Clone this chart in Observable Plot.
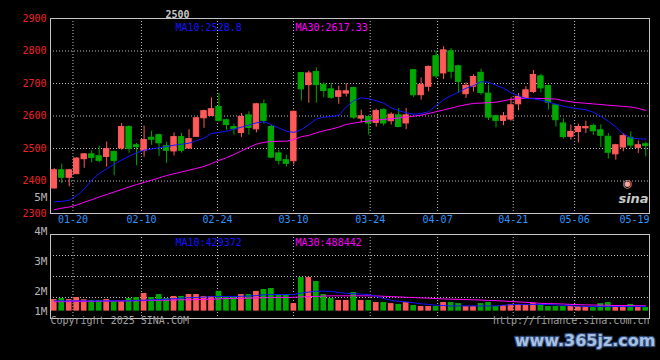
<!DOCTYPE html>
<html><head><meta charset="utf-8">
<script src="https://cdn.jsdelivr.net/npm/d3@7"></script>
<script src="https://cdn.jsdelivr.net/npm/@observablehq/plot@0.6"></script>
<style>
html,body{margin:0;padding:0;background:#000;}
#chart{position:relative;width:660px;height:360px;background:#000;overflow:hidden;}
#chart svg{position:absolute;left:0;top:0;}
</style></head><body><div id="chart"></div>
<script>
// ---- data ----
const opens=[2377,2433,2410,2421,2467,2482,2476,2474,2489,2500,
2566,2510,2492,2533,2541,2507,2491,2535,2500,2536,
2593,2600,2628,2587,2566,2548,2602,2559,2636,2566,
2485,2464,2461,2732,2695,2735,2696,2682,2659,2669,
2686,2592,2597,2579,2618,2584,2602,2577,2741,2664,
2690,2784,2731,2799,2753,2667,2690,2733,2669,2599,
2585,2589,2636,2654,2674,2722,2692,2633,2577,2536,
2551,2562,2569,2556,2536,2482,2503,2533,2502,2513];
const closes=[2433,2410,2433,2469,2482,2471,2462,2498,2462,2566,
2499,2504,2526,2527,2516,2493,2535,2493,2529,2593,
2615,2621,2585,2572,2559,2597,2563,2636,2585,2472,
2462,2453,2613,2682,2731,2695,2677,2656,2676,2676,
2595,2599,2577,2615,2577,2604,2566,2602,2664,2695,
2751,2722,2802,2736,2705,2693,2720,2671,2595,2585,
2599,2633,2659,2679,2726,2685,2641,2587,2535,2551,
2566,2566,2553,2539,2487,2510,2538,2509,2510,2508];
const highs=[2438,2452,2436,2472,2484,2493,2507,2520,2493,2577,
2570,2516,2569,2553,2544,2519,2548,2547,2558,2596,
2618,2656,2669,2590,2575,2608,2613,2639,2649,2572,
2495,2479,2615,2733,2738,2748,2702,2700,2692,2699,
2689,2618,2601,2621,2622,2610,2623,2623,2742,2717,
2754,2800,2813,2808,2756,2702,2727,2744,2695,2603,
2611,2656,2669,2690,2740,2728,2695,2636,2592,2572,
2575,2584,2575,2573,2546,2513,2546,2551,2523,2519];
const lows=[2375,2392,2382,2420,2439,2456,2456,2443,2416,2495,
2485,2447,2473,2510,2476,2454,2477,2486,2498,2535,
2562,2599,2582,2556,2541,2534,2541,2548,2575,2469,
2449,2443,2449,2646,2639,2640,2656,2652,2636,2659,
2589,2579,2541,2566,2569,2572,2564,2558,2657,2649,
2674,2715,2712,2714,2670,2654,2674,2664,2586,2563,
2570,2584,2616,2652,2669,2671,2618,2566,2529,2526,
2517,2546,2540,2503,2468,2464,2490,2498,2485,2474];
const ma10=[2336.0,2337.2,2341.0,2354.8,2374.8,2402.4,2422.7,2437.5,2451.7,2464.6,
2476.3,2486.8,2494.4,2498.4,2502.4,2506.1,2510.1,2513.2,2516.3,2524.0,
2532.3,2546.1,2549.5,2553.2,2559.4,2565.5,2572.0,2579.1,2582.4,2573.8,
2563.1,2553.2,2549.5,2557.8,2573.5,2590.8,2596.3,2598.4,2601.8,2628.0,
2647.1,2656.3,2653.2,2647.1,2639.4,2625.5,2616.3,2610.1,2605.5,2607.1,
2613.2,2631.7,2650.1,2662.4,2673.2,2685.5,2693.2,2705.5,2704.0,2694.8,
2685.5,2671.7,2662.4,2653.8,2653.2,2648.6,2642.4,2636.3,2630.1,2625.5,
2622.4,2619.4,2611.7,2599.4,2584.0,2565.5,2545.5,2533.2,2530.1,2528.8];
const ma30=[2311.7,2316.3,2320.0,2326.1,2334.7,2342.4,2350.7,2358.4,2366.1,2373.8,
2381.5,2388.9,2395.7,2402.4,2409.5,2416.6,2422.4,2427.8,2433.2,2438.8,
2444.6,2453.8,2463.4,2471.4,2481.5,2492.6,2503.7,2513.2,2518.8,2521.5,
2522.4,2522.4,2527.1,2536.3,2540.3,2548.3,2554.4,2559.7,2565.8,2574.1,
2577.8,2581.8,2584.6,2587.1,2589.5,2591.7,2593.8,2596.6,2599.4,2602.5,
2607.7,2613.2,2618.4,2624.0,2630.1,2634.8,2638.8,2639.7,2640.9,2642.5,
2646.8,2651.1,2654.1,2654.8,2654.5,2653.8,2653.2,2652.3,2647.1,2643.7,
2640.9,2639.1,2637.2,2635.4,2633.2,2631.4,2629.5,2627.7,2623.4,2617.3];
// volume, in M on the panel's axis
const volumes=[0.90,0.95,0.90,1.00,0.89,0.86,0.86,0.90,0.80,0.80,
0.95,1.00,1.19,1.00,1.14,0.95,1.05,1.05,1.14,1.14,
1.05,1.05,1.29,1.01,1.01,1.14,1.14,1.29,1.38,1.43,
1.14,1.14,0.71,1.95,1.95,1.76,1.14,0.95,0.86,0.86,
1.24,0.86,0.86,0.76,0.76,0.71,0.67,0.76,0.62,0.57,
0.57,0.57,0.76,0.76,0.71,0.57,0.57,0.71,0.76,0.57,
0.62,0.67,0.67,0.62,0.71,0.67,0.57,0.57,0.57,0.57,
0.57,0.57,0.52,0.71,0.76,0.62,0.62,0.67,0.52,0.52];
const volMa10=[0.84,0.84,0.84,0.84,0.84,0.84,0.84,0.84,0.84,0.84,
0.84,0.86,0.87,0.89,0.90,0.92,0.94,0.97,0.99,1.00,
1.02,1.04,1.05,1.05,1.05,1.06,1.07,1.09,1.13,1.14,
1.14,1.14,1.14,1.21,1.26,1.30,1.30,1.29,1.24,1.20,
1.18,1.16,1.14,1.06,0.95,0.86,0.82,0.79,0.75,0.70,
0.67,0.63,0.62,0.60,0.60,0.60,0.60,0.60,0.60,0.60,
0.63,0.66,0.67,0.67,0.67,0.67,0.67,0.65,0.63,0.61,
0.59,0.57,0.57,0.57,0.57,0.57,0.57,0.57,0.57,0.57];
const volMa30=[0.80,0.80,0.80,0.81,0.81,0.82,0.82,0.83,0.83,0.84,
0.84,0.84,0.85,0.86,0.87,0.87,0.88,0.89,0.89,0.90,
0.91,0.92,0.93,0.95,0.96,0.96,0.97,0.98,0.99,0.99,
1.00,1.00,1.01,1.03,1.04,1.05,1.07,1.08,1.08,1.08,
1.08,1.08,1.08,1.07,1.06,1.04,1.03,1.01,1.00,0.98,
0.97,0.95,0.93,0.92,0.91,0.90,0.89,0.88,0.86,0.85,
0.83,0.81,0.79,0.77,0.75,0.72,0.71,0.70,0.69,0.67,
0.66,0.65,0.64,0.64,0.63,0.62,0.62,0.61,0.61,0.60];
const volBase=0.35;
const priceTicks=[2300,2400,2500,2600,2700,2800,2900];
const priceGrid=[2400,2500,2600,2700,2800];
const dateLabels=["01-20","02-10","02-24","03-10","03-24","04-07","04-21","05-06","05-19"];
const dateTickPos=[2.5,11.65,21.8,31.95,42.2,51.2,61.3,69.5,77.5];
const dateGridPos=[2.5,11.65,21.8,31.95,42.2,51.2,61.3,69.5];
const volTickLabels=["4M","3M","2M","1M"];
const volTickPos=[4.14,2.71,1.29,0.33];
const volGrid=[1,2,3];
const priceMaLabels=["MA10:2528.8","MA30:2617.33"];
const volMaLabels=["MA10:429372","MA30:488442"];

// ---- build ----
const N=opens.length;
const UP="#ff5a5a", DOWN="#00a800", GRID="#bdbdbd", FRAME="#c4c4c4";
const BLUE="#1414ff", MAG="#ff00ff";
const FONT="'DejaVu Sans Mono', monospace";
const candles=d3.range(N).map(i=>({i,o:opens[i],h:highs[i],l:lows[i],c:closes[i],col:closes[i]>=opens[i]?UP:DOWN}));
const vols=d3.range(N).map(i=>({i,v:volumes[i],col:candles[i].col}));
const dateTicks=dateLabels.map((t,j)=>({t,at:dateTickPos[j]}));
const volTicks=volTickLabels.map((t,j)=>({t,at:volTickPos[j]}));
const common={width:660,height:360,marginLeft:50,marginRight:11,
  style:{background:"transparent",fontFamily:FONT,fontSize:"10px",overflow:"visible"},
  color:{type:"identity"}};
const xOpt={domain:[-0.5,N-0.5],axis:null};
const lineOf=(arr,stroke)=>Plot.line(arr,{x:(d,i)=>i,y:d=>d,stroke,strokeWidth:1});

const main=Plot.plot({...common,marginTop:18,marginBottom:147,
  x:xOpt, y:{domain:[2300,2900],axis:null},
  marks:[
    Plot.ruleY(priceGrid,{stroke:GRID,strokeDasharray:"1,2"}),
    Plot.ruleX(dateGridPos,{x:d=>d,stroke:GRID,strokeDasharray:"1,2"}),
    Plot.frame({stroke:FRAME}),
    Plot.ruleX(candles,{x:"i",y1:"l",y2:"h",stroke:"col"}),
    Plot.rect(candles,{x1:d=>d.i-0.36,x2:d=>d.i+0.36,y1:"o",y2:"c",fill:"col",stroke:"col"}),
    lineOf(ma30,MAG),
    lineOf(ma10,BLUE),
    Plot.text(priceTicks,{y:d=>d,text:d=>String(d),frameAnchor:"left",textAnchor:"end",dx:-4,fill:"#ee2222"}),
    Plot.text(["5M"],{text:d=>d,frameAnchor:"bottom-left",textAnchor:"end",dx:-3,dy:-13,fill:"#b4b4b4",fontSize:11}),
    Plot.text(dateTicks,{x:"at",text:"t",frameAnchor:"bottom",dy:9,fill:"#2b95ff"}),
    Plot.text([priceMaLabels[0]],{text:d=>d,frameAnchor:"top-left",textAnchor:"start",dx:125,dy:5,fill:BLUE}),
    Plot.text([priceMaLabels[1]],{text:d=>d,frameAnchor:"top-left",textAnchor:"start",dx:245,dy:5,fill:MAG}),
    Plot.text(["2500"],{text:d=>d,frameAnchor:"top-left",textAnchor:"start",dx:115,dy:-8,fill:"#c8c8c8",fontWeight:"bold"}),
    Plot.text(["◉"],{text:d=>d,frameAnchor:"bottom-right",textAnchor:"middle",dx:-22,dy:-27,fill:"#f4a6a6",fontSize:11,fontFamily:"DejaVu Sans"}),
    Plot.text(["sina"],{text:d=>d,frameAnchor:"bottom-right",textAnchor:"middle",dx:-16,dy:-11,fill:"#c8c8c8",fontSize:13,fontWeight:"bold",fontStyle:"italic",fontFamily:"DejaVu Sans"})
  ]});

const vol=Plot.plot({...common,marginTop:234,marginBottom:42,
  x:xOpt, y:{domain:[0,4],axis:null},
  marks:[
    Plot.ruleY(volGrid,{stroke:GRID,strokeDasharray:"1,2"}),
    Plot.ruleX(dateGridPos,{x:d=>d,stroke:GRID,strokeDasharray:"1,2"}),
    Plot.frame({stroke:FRAME}),
    Plot.rect(vols,{x1:d=>d.i-0.38,x2:d=>d.i+0.38,y1:d=>volBase,y2:"v",fill:"col"}),
    lineOf(volMa30,MAG),
    lineOf(volMa10,BLUE),
    Plot.text(volTicks,{y:"at",text:"t",frameAnchor:"left",textAnchor:"end",dx:-3,fill:"#b4b4b4",fontSize:11}),
    Plot.text([volMaLabels[0]],{text:d=>d,frameAnchor:"top-left",textAnchor:"start",dx:125,dy:4,fill:BLUE}),
    Plot.text([volMaLabels[1]],{text:d=>d,frameAnchor:"top-left",textAnchor:"start",dx:245,dy:4,fill:MAG}),
    Plot.text(["Copyright 2025 SINA.COM"],{text:d=>d,frameAnchor:"bottom-left",textAnchor:"start",dy:5,fill:"#a0a0a0"}),
    Plot.text(["http://finance.sina.com.cn"],{text:d=>d,frameAnchor:"bottom-right",textAnchor:"end",dy:5,fill:"#a0a0a0"}),
    Plot.text(["www.365jz.com"],{text:d=>d,frameAnchor:"bottom-right",textAnchor:"end",dx:6,dy:27,fill:"#a9c0e0",stroke:"#2d4a78",strokeWidth:2.5,paintOrder:"stroke",fontSize:16,fontWeight:"bold",fontFamily:"DejaVu Sans"})
  ]});

const host=document.getElementById("chart");
host.appendChild(main);
host.appendChild(vol);
</script></body></html>
